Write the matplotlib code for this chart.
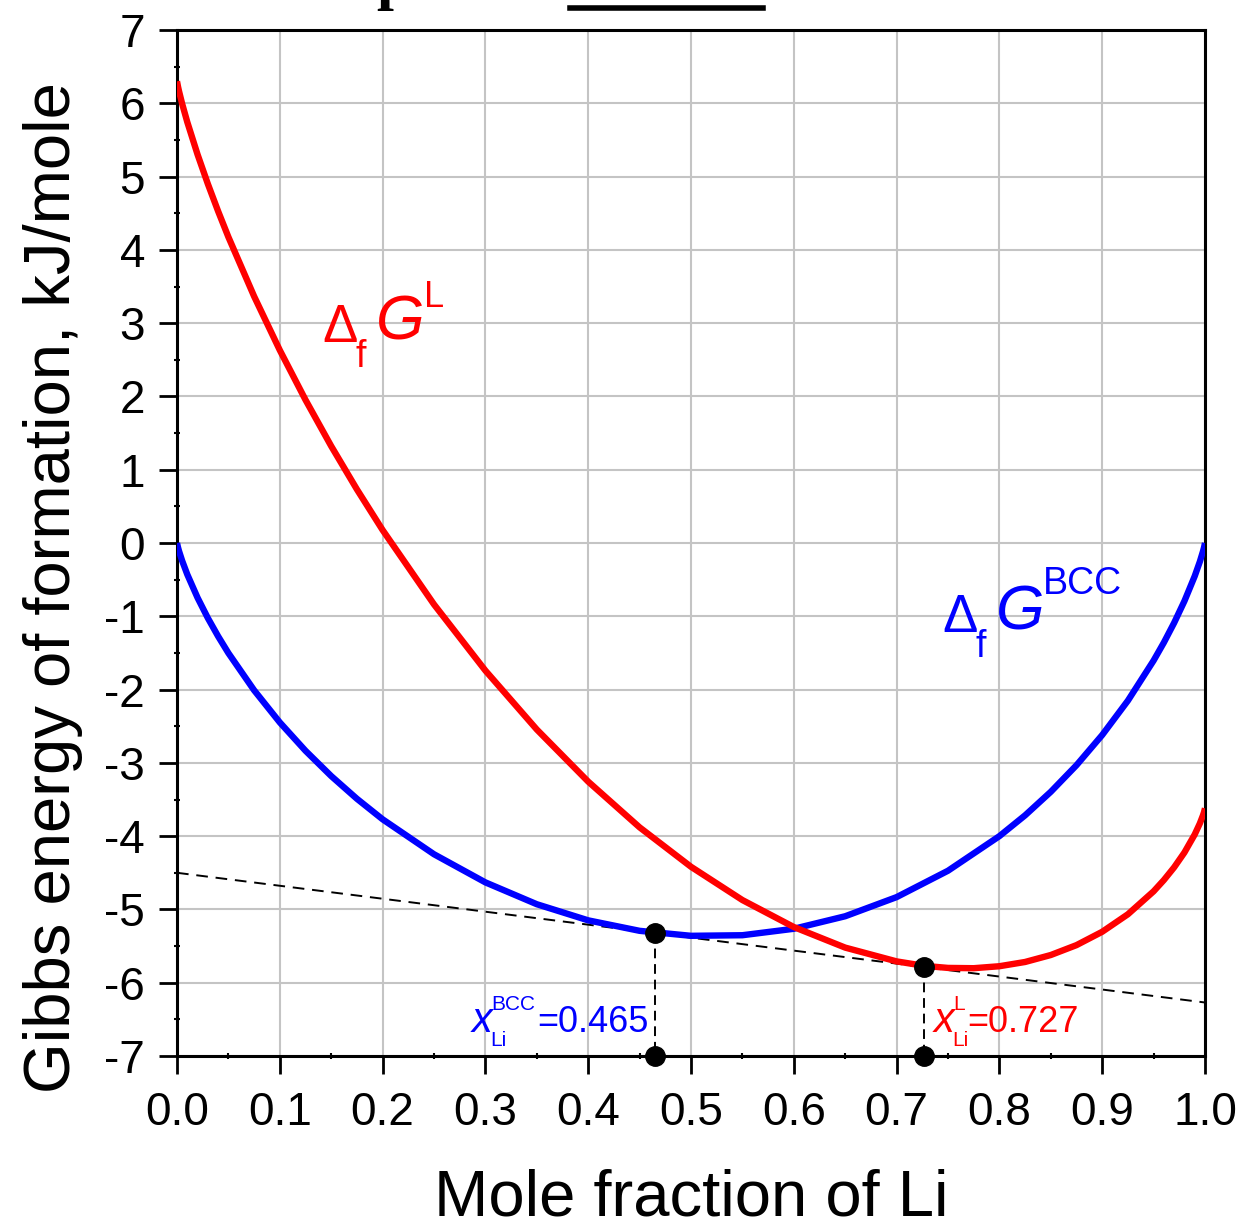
import matplotlib
matplotlib.use("Agg")
import matplotlib.pyplot as plt
from matplotlib.lines import Line2D

plt.rcParams['font.family'] = ['Liberation Sans', 'DejaVu Sans']
plt.rcParams['axes.unicode_minus'] = False

# ---- data ----
x_bcc = [0, 0.001, 0.002, 0.005, 0.01, 0.02, 0.03, 0.04, 0.05, 0.075, 0.1, 0.125, 0.15,
         0.175, 0.2, 0.25, 0.3, 0.35, 0.4, 0.45, 0.5, 0.55, 0.6, 0.65, 0.7, 0.75, 0.8,
         0.825, 0.85, 0.875, 0.9, 0.925, 0.95, 0.96, 0.97, 0.98, 0.99, 0.995, 0.998,
         0.999, 1.0]
g_bcc = [0, -0.061, -0.112, -0.242, -0.429, -0.747, -1.024, -1.273, -1.502, -2.009,
         -2.448, -2.835, -3.180, -3.490, -3.770, -4.247, -4.631, -4.929, -5.149, -5.292,
         -5.360, -5.352, -5.264, -5.093, -4.832, -4.472, -4.000, -3.716, -3.395, -3.032,
         -2.620, -2.151, -1.604, -1.358, -1.089, -0.792, -0.452, -0.254, -0.116, -0.064, 0]

x_liq = [0, 0.001, 0.002, 0.005, 0.01, 0.02, 0.03, 0.04, 0.05, 0.075, 0.1, 0.125, 0.15,
         0.175, 0.2, 0.25, 0.3, 0.35, 0.4, 0.45, 0.5, 0.55, 0.6, 0.65, 0.7, 0.727, 0.75,
         0.775, 0.8, 0.825, 0.85, 0.875, 0.9, 0.925, 0.95, 0.96, 0.97, 0.98, 0.99, 0.995,
         0.998, 0.999, 1.0]
g_liq = [6.300, 6.226, 6.163, 5.994, 5.744, 5.301, 4.900, 4.527, 4.175, 3.366, 2.631,
         1.953, 1.322, 0.732, 0.177, -0.838, -1.741, -2.545, -3.256, -3.880, -4.418,
         -4.872, -5.240, -5.521, -5.709, -5.770, -5.798, -5.802, -5.775, -5.717, -5.622,
         -5.487, -5.305, -5.066, -4.753, -4.599, -4.425, -4.223, -3.977, -3.826, -3.717,
         -3.674, -3.620]

tangent_x = [0.0, 1.0]
tangent_g = [-4.50, -6.27]

x_eq = [0.465, 0.727]
g_eq = [-5.32, -5.78]
y_floor = -7

xticks = [0.0, 0.1, 0.2, 0.3, 0.4, 0.5, 0.6, 0.7, 0.8, 0.9, 1.0]
yticks = [-7, -6, -5, -4, -3, -2, -1, 0, 1, 2, 3, 4, 5, 6, 7]

W, H = 1243, 1223
fig = plt.figure(figsize=(W / 100, H / 100), dpi=100)
ax = fig.add_axes([177 / W, 1 - 1056 / H, (1205 - 177) / W, (1056 - 30) / H])

ax.plot(tangent_x, tangent_g, color='black', lw=1.4, ls=(0, (6, 4)), zorder=3)
ax.plot(x_bcc, g_bcc, color='#0000ff', lw=4.6, solid_capstyle='butt', zorder=4)
ax.plot(x_liq, g_liq, color='#ff0000', lw=4.6, solid_capstyle='butt', zorder=4)
for xe, ge in zip(x_eq, g_eq):
    ax.plot([xe, xe], [ge, y_floor], color='black', lw=1.4, ls=(0, (5, 3)), zorder=5)
    ax.plot([xe, xe], [ge, y_floor], ls='none', marker='o', ms=14,
            color='black', zorder=6, clip_on=False)

ax.set_xlim(0, 1)
ax.set_ylim(-7, 7)
ax.set_xticks(xticks)
ax.set_xticklabels([f"{v:.1f}" for v in xticks])
ax.set_yticks(yticks)
ax.set_yticklabels([str(v) for v in yticks])
ax.set_xticks([0.05 + 0.1 * i for i in range(10)], minor=True)
ax.set_yticks([-6.5 + i for i in range(14)], minor=True)

ax.grid(True, which='major', color='#c4c4c4', lw=1.5, zorder=0)
ax.set_axisbelow(True)
for s in ax.spines.values():
    s.set_linewidth(2.2)
ax.tick_params(which='major', direction='out', length=13, width=2.0,
               labelsize=33, pad=10)
ax.tick_params(axis='x', which='major', pad=12)
ax.tick_params(which='minor', direction='inout', length=4, width=1.5)

ax.set_xlabel('Mole fraction of Li', fontsize=47, labelpad=24)
ax.set_ylabel('Gibbs energy of formation, kJ/mole', fontsize=47)
ax.yaxis.set_label_coords(-0.091, 0.457)

def ftext(px, py, s, **kw):
    fig.text(px / W, 1 - py / H, s, va='baseline', ha='left', **kw)

# Delta_f G^L label (red)
ftext(322, 342, '\u0394', color='red', fontsize=38)
ftext(356, 367, 'f', color='red', fontsize=27)
ftext(376, 340, 'G', color='red', fontsize=45, style='italic')
ftext(424, 307, 'L', color='red', fontsize=26)

# Delta_f G^BCC label (blue)
ftext(942, 632, '\u0394', color='blue', fontsize=38)
ftext(976, 657, 'f', color='blue', fontsize=27)
ftext(996, 630, 'G', color='blue', fontsize=45, style='italic')
ftext(1043, 594, 'BCC', color='blue', fontsize=27)

# x_Li^BCC=0.465 (blue)
ftext(472, 1032, 'x', color='blue', fontsize=30, style='italic')
ftext(490, 1046, 'Li', color='blue', fontsize=15)
ftext(491, 1010, 'BCC', color='blue', fontsize=15)
ftext(537, 1032, '=0.465', color='blue', fontsize=26)

# x_Li^L=0.727 (red)
ftext(934, 1032, 'x', color='red', fontsize=30, style='italic')
ftext(952, 1046, 'Li', color='red', fontsize=15)
ftext(953, 1010, 'L', color='red', fontsize=15)
ftext(967, 1032, '=0.727', color='red', fontsize=26)

# cropped remnants at top of figure
fig.text(376 / W, 1 + 2 / H, 'p', fontsize=44, fontweight='bold',
         family='Liberation Serif', va='baseline', ha='left')
fig.add_artist(Line2D([570 / W, 763 / W], [1 - 7.5 / H, 1 - 7.5 / H],
                      transform=fig.transFigure, color='black', lw=4))

fig.savefig('out.png', dpi=100)
